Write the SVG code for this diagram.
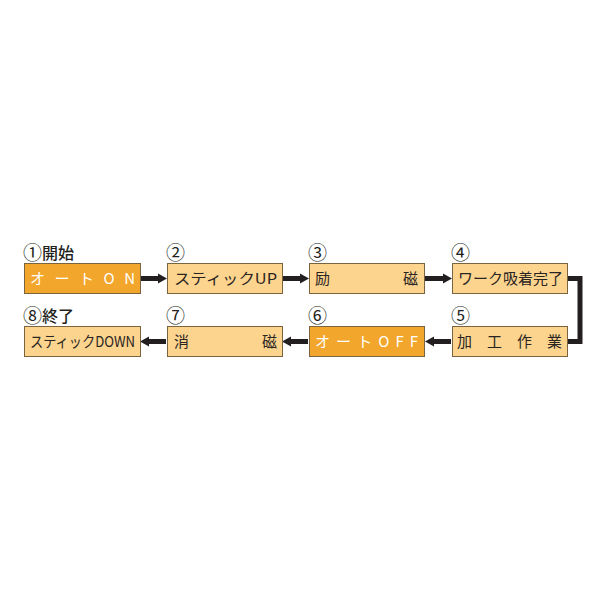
<svg xmlns="http://www.w3.org/2000/svg" width="600" height="600" viewBox="0 0 600 600">
<style>
.bx{stroke:#7a6440;stroke-width:1}
.or{fill:#F2A62B}
.lt{fill:#FDD48E}
.t{font-family:"Noto Sans CJK JP","Noto Sans",sans-serif;font-size:15px;fill:#2a2522}
.w{fill:#ffffff}
.lb{font-family:"Noto Sans CJK JP","Noto Sans",sans-serif;font-size:16px;font-weight:500;fill:#231f20}
.cn{font-family:"Noto Sans CJK JP","Noto Sans",sans-serif;font-size:19px;font-weight:400;fill:#231f20}
.ln{stroke:#231f20;stroke-width:5;fill:none}
</style>
<defs>
<marker id="ah" markerWidth="9" markerHeight="11" refX="0" refY="5.5" orient="auto" markerUnits="userSpaceOnUse">
<path d="M0,0.5 L9,5.5 L0,10.5 z" fill="#231f20"/>
</marker>
</defs>
<g id="connectors">
<line class="ln" x1="141" y1="278.5" x2="158" y2="278.5" marker-end="url(#ah)"/>
<line class="ln" x1="283" y1="278.5" x2="300" y2="278.5" marker-end="url(#ah)"/>
<line class="ln" x1="425" y1="278.5" x2="443" y2="278.5" marker-end="url(#ah)"/>
<polyline class="ln" points="568,278.5 580,278.5 580,341.5 568,341.5"/>
<line class="ln" x1="451" y1="341.5" x2="434" y2="341.5" marker-end="url(#ah)"/>
<line class="ln" x1="308" y1="341.5" x2="291" y2="341.5" marker-end="url(#ah)"/>
<line class="ln" x1="166" y1="341.5" x2="149" y2="341.5" marker-end="url(#ah)"/>
</g>
<g id="n1">
<text class="cn" x="23" y="260">①</text>
<text class="lb" x="42" y="259">開始</text>
<rect class="bx or" x="24.5" y="263.5" width="116" height="30"/>
<text class="t w" x="30" y="284" textLength="105" lengthAdjust="spacing">オートON</text>
</g>
<g id="n2">
<text class="cn" x="166" y="260">②</text>
<rect class="bx lt" x="167.5" y="263.5" width="115" height="30"/>
<text class="t" x="174" y="284" textLength="103" lengthAdjust="spacingAndGlyphs">スティックUP</text>
</g>
<g id="n3">
<text class="cn" x="308" y="260">③</text>
<rect class="bx lt" x="309.5" y="263.5" width="115" height="30"/>
<text class="t" x="315" y="284">励</text>
<text class="t" x="418" y="284" text-anchor="end">磁</text>
</g>
<g id="n4">
<text class="cn" x="451" y="260">④</text>
<rect class="bx lt" x="452.5" y="263.5" width="115" height="30"/>
<text class="t" x="458" y="284" textLength="105" lengthAdjust="spacing">ワーク吸着完了</text>
</g>
<g id="n5">
<text class="cn" x="451" y="323">⑤</text>
<rect class="bx lt" x="452.5" y="326.5" width="115" height="30"/>
<text class="t" x="457" y="347" textLength="105" lengthAdjust="spacing">加　工　作　業</text>
</g>
<g id="n6">
<text class="cn" x="308" y="323">⑥</text>
<rect class="bx or" x="309.5" y="326.5" width="115" height="30"/>
<text class="t w" x="315" y="347" textLength="103" lengthAdjust="spacing">オートOFF</text>
</g>
<g id="n7">
<text class="cn" x="166" y="323">⑦</text>
<rect class="bx lt" x="167.5" y="326.5" width="115" height="30"/>
<text class="t" x="174" y="347">消</text>
<text class="t" x="277" y="347" text-anchor="end">磁</text>
</g>
<g id="n8">
<text class="cn" x="23" y="323">⑧</text>
<text class="lb" x="42" y="322">終了</text>
<rect class="bx lt" x="24.5" y="326.5" width="116" height="30"/>
<text class="t" x="30" y="347" textLength="105" lengthAdjust="spacingAndGlyphs">スティックDOWN</text>
</g>
</svg>
